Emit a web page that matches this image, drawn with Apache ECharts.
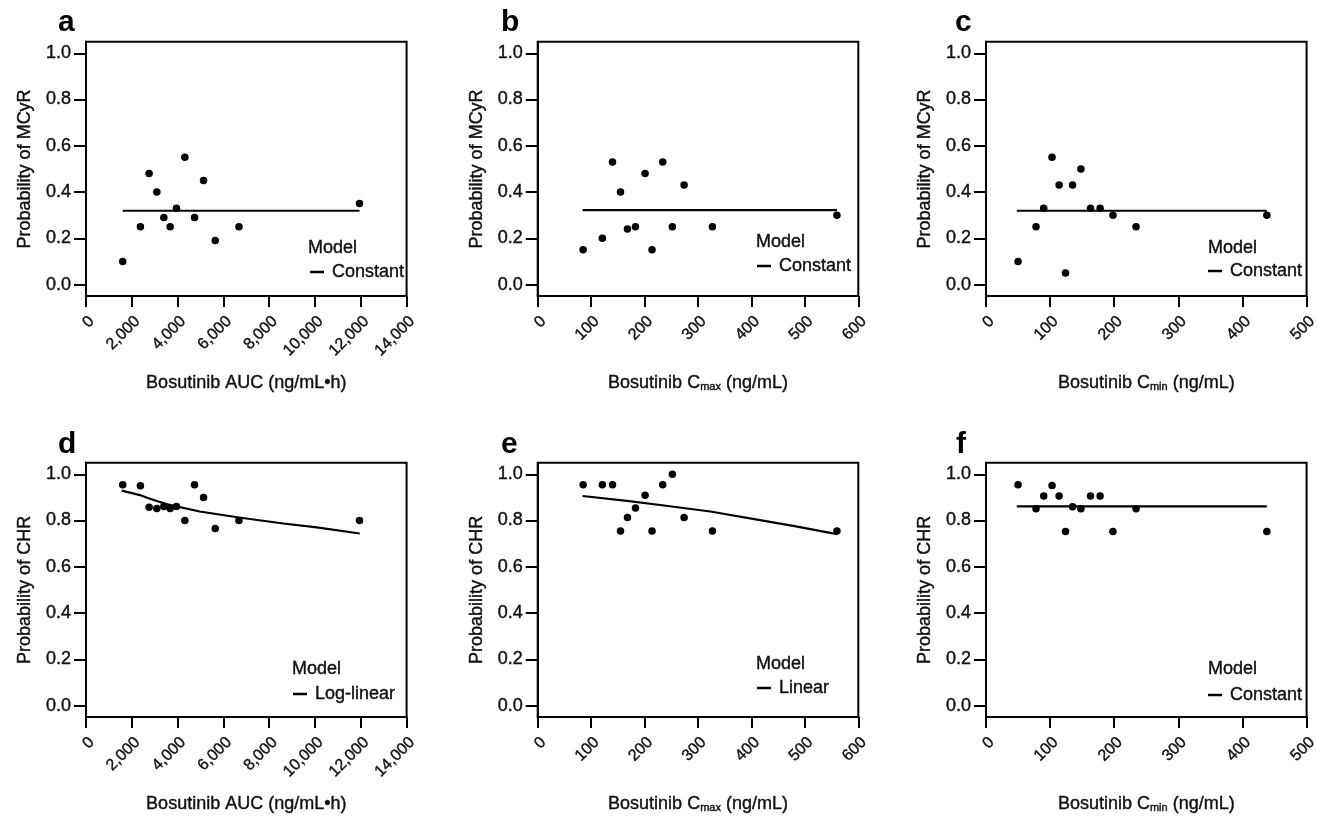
<!DOCTYPE html>
<html>
<head>
<meta charset="utf-8">
<script src="https://cdn.jsdelivr.net/npm/echarts@6/dist/echarts.min.js"></script>
<style>html,body{margin:0;padding:0;background:#fff}#c{width:1317px;height:819px}</style>
</head>
<body>
<div id="c"></div>
<script>
// ---- data ----
const aucX   = [1604, 2377, 2756, 3092, 3398, 3675, 3952, 4317, 4740, 5133, 5644, 6679, 11944];
const cmaxX  = [85, 121, 140, 155, 168, 183, 201, 214, 234, 252, 274, 327, 560];
const cminX  = [50, 78, 90, 103, 114, 124, 135, 148, 163, 178, 198, 234, 438];

const mcyrAuc  = [0.10, 0.25, 0.48, 0.40, 0.29, 0.25, 0.33, 0.55, 0.29, 0.45, 0.19, 0.25, 0.35];
const mcyrCmax = [0.15, 0.20, 0.53, 0.40, 0.24, 0.25, 0.48, 0.15, 0.53, 0.25, 0.43, 0.25, 0.30];
const mcyrCmin = [0.10, 0.25, 0.33, 0.55, 0.43, 0.05, 0.43, 0.50, 0.33, 0.33, 0.30, 0.25, 0.30];

const chrAuc  = [0.955, 0.95, 0.857, 0.852, 0.861, 0.852, 0.861, 0.80, 0.955, 0.90, 0.766, 0.80, 0.80];
const chrCmax = [0.955, 0.955, 0.955, 0.755, 0.813, 0.854, 0.909, 0.755, 0.955, 1.00, 0.813, 0.755, 0.755];
const chrCmin = [0.955, 0.851, 0.906, 0.951, 0.906, 0.752, 0.860, 0.851, 0.906, 0.906, 0.752, 0.851, 0.752];

// model curves
const modelMcyrAucX  = [1604, 11944];  const modelMcyrAucY  = [0.319, 0.319];
const modelMcyrCmaxX = [84, 560];      const modelMcyrCmaxY = [0.322, 0.322];
const modelMcyrCminX = [48, 438];      const modelMcyrCminY = [0.319, 0.319];
const modelChrAucX  = [1561, 2350, 2732, 3507, 4964, 6678, 8616, 10077, 11952];
const modelChrAucY  = [0.929, 0.910, 0.896, 0.871, 0.839, 0.813, 0.787, 0.770, 0.744];
const modelChrCmaxX = [84, 167, 229, 323, 416, 478, 560];
const modelChrCmaxY = [0.906, 0.885, 0.867, 0.839, 0.802, 0.777, 0.741];
const modelChrCminX = [48, 438];       const modelChrCminY = [0.861, 0.861];

const yTicks = [0, 0.2, 0.4, 0.6, 0.8, 1.0];
const panelLetters = ['a', 'b', 'c', 'd', 'e', 'f'];
const modelNames = ['Constant', 'Constant', 'Constant', 'Log-linear', 'Linear', 'Constant'];
const yNames = ['Probability of MCyR', 'Probability of MCyR', 'Probability of MCyR',
                'Probability of CHR', 'Probability of CHR', 'Probability of CHR'];
const xNames = ['Bosutinib AUC (ng/mL\u2022h)', 'Bosutinib C{sub|max} (ng/mL)', 'Bosutinib C{sub|min} (ng/mL)',
                'Bosutinib AUC (ng/mL\u2022h)', 'Bosutinib C{sub|max} (ng/mL)', 'Bosutinib C{sub|min} (ng/mL)'];
const xMax = [14000, 600, 500, 14000, 600, 500];
const xInterval = [2000, 100, 100, 2000, 100, 100];

const obsX = [aucX, cmaxX, cminX, aucX, cmaxX, cminX];
const obsY = [mcyrAuc, mcyrCmax, mcyrCmin, chrAuc, chrCmax, chrCmin];
const modX = [modelMcyrAucX, modelMcyrCmaxX, modelMcyrCminX, modelChrAucX, modelChrCmaxX, modelChrCminX];
const modY = [modelMcyrAucY, modelMcyrCmaxY, modelMcyrCminY, modelChrAucY, modelChrCmaxY, modelChrCminY];

// ---- layout ----
const FONT = '"Liberation Sans", Arial, Helvetica, sans-serif';
const TXT = '#111';
const thick = {textBorderColor: '#111', textBorderWidth: 0.4};
const gridLefts = [86, 537.7, 986];
const gridTops = [41.7, 462.7];
const GW = 320.6, GH = 254.4;

const letterPos = [[58, 8], [501, 8], [955, 8], [58, 430], [501, 430], [956, 430]];
const modelPos  = [[308, 238], [756, 232], [1208, 238], [292, 659], [756, 654], [1208, 659]];
const legendPos = [[310, 262], [757, 256], [1208, 261], [293, 684], [757, 678], [1208, 685]];

const fmtX = v => v >= 1000 ? v.toLocaleString('en-US') : String(v);

const grid = [], xAxis = [], yAxis = [], series = [], title = [], legend = [];
for (let i = 0; i < 6; i++) {
  const row = Math.floor(i / 3), col = i % 3;
  grid.push({left: gridLefts[col], top: gridTops[row], width: GW, height: GH,
    show: true, borderColor: '#000', borderWidth: 2, backgroundColor: 'transparent',
    containLabel: false, outerBoundsMode: 'none'});
  xAxis.push({gridIndex: i, type: 'value', min: 0, max: xMax[i], interval: xInterval[i],
    axisLine: {show: true, onZero: false, lineStyle: {color: '#000', width: 2}},
    axisTick: {show: true, length: 11, lineStyle: {color: '#000', width: 2}},
    axisLabel: Object.assign({rotate: 45, margin: 17, fontSize: 16, fontFamily: FONT, color: TXT,
      verticalAlign: 'top', showMinLabel: true, showMaxLabel: true, formatter: fmtX}, thick),
    splitLine: {show: false},
    name: xNames[i], nameLocation: 'middle', nameGap: 78,
    nameTextStyle: Object.assign({fontSize: 18, fontFamily: FONT, color: TXT,
      rich: {sub: Object.assign({fontSize: 11, fontFamily: FONT, color: TXT, padding: [7, 0, 0, 0]}, thick)}}, thick)
  });
  yAxis.push({gridIndex: i, type: 'value', min: -0.05, max: 1.05,
    axisLine: {show: true, onZero: false, lineStyle: {color: '#000', width: 2}},
    axisTick: {show: true, length: 12, customValues: yTicks, lineStyle: {color: '#000', width: 2}},
    axisLabel: Object.assign({customValues: yTicks, margin: 15, fontSize: 18, fontFamily: FONT, color: TXT,
      formatter: v => Number(v).toFixed(1)}, thick),
    splitLine: {show: false},
    name: yNames[i], nameLocation: 'middle', nameGap: 52,
    nameTextStyle: Object.assign({fontSize: 18, fontFamily: FONT, color: TXT}, thick)
  });
  series.push({type: 'scatter', name: 'Observed', xAxisIndex: i, yAxisIndex: i,
    symbol: 'circle', symbolSize: 7.5, itemStyle: {color: '#000', opacity: 1},
    data: obsX[i].map((x, k) => [x, obsY[i][k]]), z: 3});
  series.push({type: 'line', name: modelNames[i], xAxisIndex: i, yAxisIndex: i,
    showSymbol: false, symbol: 'none', lineStyle: {color: '#000', width: 2.2}, itemStyle: {color: '#000'},
    data: modX[i].map((x, k) => [x, modY[i][k]]), z: 2});
  title.push({text: panelLetters[i], left: letterPos[i][0], top: letterPos[i][1], padding: 0,
    textStyle: {fontSize: 30, fontWeight: 'bold', fontFamily: FONT, color: '#000'}});
  title.push({text: 'Model', left: modelPos[i][0], top: modelPos[i][1], padding: 0,
    textStyle: Object.assign({fontSize: 18, fontWeight: 'normal', fontFamily: FONT, color: TXT, lineHeight: 20}, thick)});
  legend.push({data: [modelNames[i]], left: legendPos[i][0], top: legendPos[i][1], padding: 0,
    icon: 'rect', itemWidth: 14, itemHeight: 2.5, selectedMode: false,
    itemStyle: {color: '#000'},
    textStyle: Object.assign({fontSize: 18, fontFamily: FONT, color: TXT, lineHeight: 20, padding: [0, 0, 0, 3]}, thick)});
}

const chart = echarts.init(document.getElementById('c'), null, {renderer: 'canvas'});
chart.setOption({animation: false, backgroundColor: '#fff', grid, xAxis, yAxis, series, title, legend});
</script>
</body>
</html>
